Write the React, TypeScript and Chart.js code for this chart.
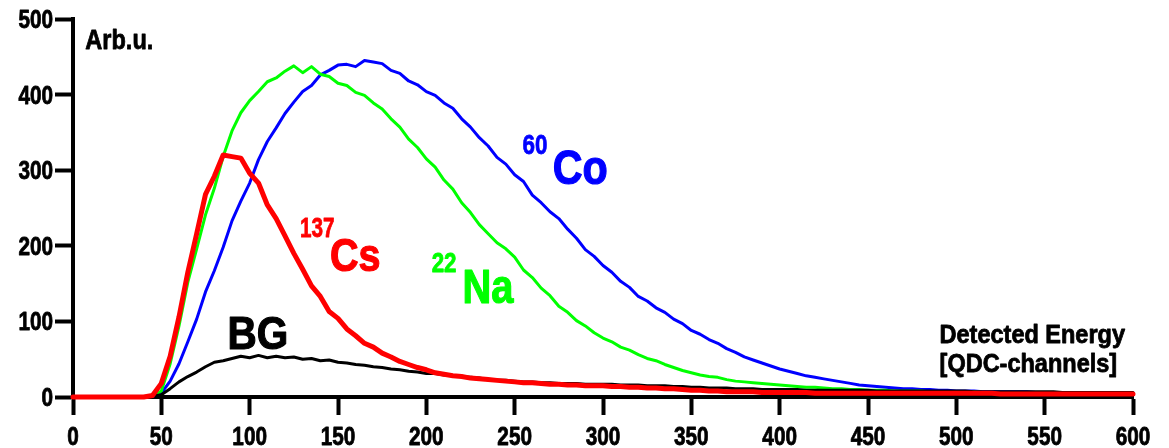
import React, { useEffect, useRef } from "react";
import { Chart, registerables } from "chart.js";

Chart.register(...registerables);

// QDC channel of every sample (step of 5 channels)
const channels = [
  0, 5, 10, 15, 20, 25, 30, 35, 40, 45, 50, 55, 60, 65, 70, 75, 80, 85, 90, 95,
  100, 105, 110, 115, 120, 125, 130, 135, 140, 145, 150, 155, 160, 165, 170, 175, 180, 185, 190, 195,
  200, 205, 210, 215, 220, 225, 230, 235, 240, 245, 250, 255, 260, 265, 270, 275, 280, 285, 290, 295,
  300, 305, 310, 315, 320, 325, 330, 335, 340, 345, 350, 355, 360, 365, 370, 375, 380, 385, 390, 395,
  400, 405, 410, 415, 420, 425, 430, 435, 440, 445, 450, 455, 460, 465, 470, 475, 480, 485, 490, 495,
  500, 505, 510, 515, 520, 525, 530, 535, 540, 545, 550, 555, 560, 565, 570, 575, 580, 585, 590, 595,
  600,
];

// 137Cs spectrum
const cs137 = [
  0, 0, 0, 0, 0, 0, 0, 0, 0, 2, 18, 54, 106, 165, 216, 268, 292, 320, 318, 316,
  296, 283, 254, 236, 213, 190, 169, 147, 133, 113, 104, 90, 81, 71, 66, 58, 53, 47, 43, 39,
  36, 32, 30, 28, 27, 25, 24, 23, 22, 21, 20, 19, 19, 18, 17, 17, 16, 16, 15, 15,
  15, 14, 14, 13, 13, 12, 12, 11, 11, 10, 9, 9, 8, 8, 7, 7, 7, 7, 6, 6,
  6, 6, 6, 6, 5, 5, 5, 5, 5, 5, 5, 5, 5, 5, 5, 5, 5, 5, 5, 5,
  5, 5, 5, 5, 5, 4, 4, 4, 4, 4, 4, 4, 4, 4, 4, 4, 4, 4, 4, 4,
  4,
];

// 22Na spectrum
const na22 = [
  0, 0, 0, 0, 0, 0, 0, 0, 0, 1, 8, 44, 94, 152, 196, 241, 276, 318, 352, 376,
  392, 404, 417, 422, 431, 438, 429, 437, 427, 424, 415, 412, 403, 399, 389, 381, 368, 357, 341, 330,
  315, 304, 287, 275, 257, 244, 228, 216, 204, 196, 185, 168, 158, 144, 134, 120, 112, 101, 94, 85,
  78, 73, 66, 62, 56, 51, 48, 43, 39, 35, 32, 29, 27, 26, 23, 21, 20, 19, 18, 17,
  16, 15, 14, 13, 13, 12, 11, 11, 10, 10, 9, 9, 9, 8, 8, 8, 8, 7, 7, 7,
  7, 7, 7, 6, 6, 6, 6, 6, 6, 6, 6, 6, 5, 5, 5, 5, 5, 5, 5, 5,
  5,
];

// 60Co spectrum
const co60 = [
  0, 0, 0, 0, 0, 0, 0, 0, 0, 1, 5, 21, 44, 73, 103, 139, 167, 198, 233, 259,
  283, 314, 338, 356, 375, 390, 404, 412, 426, 432, 439, 440, 437, 445, 443, 441, 432, 428, 418, 413,
  404, 399, 389, 382, 368, 357, 343, 332, 317, 308, 294, 285, 267, 257, 245, 236, 222, 210, 195, 186,
  174, 165, 153, 145, 133, 127, 118, 112, 103, 97, 88, 83, 76, 71, 64, 59, 53, 49, 45, 41,
  37, 34, 31, 28, 26, 24, 22, 20, 18, 16, 15, 14, 13, 12, 11, 11, 10, 10, 9, 9,
  8, 8, 8, 7, 7, 7, 7, 7, 7, 6, 6, 6, 6, 6, 6, 6, 5, 5, 5, 5,
  5,
];

// Background spectrum
const background = [
  0, 0, 0, 0, 0, 0, 0, 0, 0, 1, 3, 11, 20, 27, 33, 40, 46, 48, 51, 54,
  52, 55, 52, 54, 52, 53, 50, 51, 48, 49, 46, 45, 43, 42, 40, 39, 37, 36, 34, 33,
  31, 31, 29, 28, 27, 26, 25, 23, 22, 22, 21, 20, 20, 19, 19, 18, 18, 18, 17, 17,
  17, 17, 16, 16, 16, 15, 15, 15, 14, 14, 13, 13, 12, 12, 12, 11, 11, 11, 10, 10,
  10, 10, 10, 9, 9, 9, 9, 9, 9, 9, 9, 8, 8, 8, 8, 8, 8, 8, 8, 8,
  8, 8, 7, 7, 7, 7, 7, 7, 7, 7, 7, 7, 6, 6, 6, 6, 6, 6, 6, 6,
  6,
];

const FONT = '"Liberation Sans", Arial, sans-serif';

// In-plot text, anchored in data coordinates (channel, counts) at the left baseline;
// sx narrows the glyphs horizontally for a condensed face.
const plotTexts = [
  { text: "Arb.u.", x: 7, y: 460, size: 28, sx: 0.84, color: "#000000" },
  { text: "BG", x: 87.5, y: 64, size: 46, sx: 0.88, color: "#000000" },
  { text: "137", x: 128.5, y: 211, size: 28, sx: 0.74, color: "#ff0000" },
  { text: "Cs", x: 145.5, y: 167, size: 46, sx: 0.86, color: "#ff0000" },
  { text: "22", x: 203, y: 165, size: 28, sx: 0.8, color: "#00ff00" },
  { text: "Na", x: 220.5, y: 124, size: 48, sx: 0.83, color: "#00ff00" },
  { text: "60", x: 254.5, y: 322, size: 28, sx: 0.8, color: "#0000ff" },
  { text: "Co", x: 271.5, y: 282, size: 48, sx: 0.86, color: "#0000ff" },
  { text: "Detected Energy", x: 490.5, y: 71, size: 25, sx: 0.94, color: "#000000" },
  { text: "[QDC-channels]", x: 490.5, y: 33, size: 25, sx: 0.94, color: "#000000" },
];

const TICK_SIZE = 25;
const TICK_SX = 0.83;

// Bold text squeezed horizontally, with a thin outline in the same colour for a heavier stroke
function condensedText(
  ctx: CanvasRenderingContext2D,
  text: string,
  x: number,
  y: number,
  sx: number,
  align: CanvasTextAlign,
  weight: number
) {
  ctx.save();
  ctx.translate(x, y);
  ctx.scale(sx, 1);
  ctx.textAlign = align;
  ctx.lineJoin = "round";
  ctx.lineWidth = weight;
  ctx.strokeStyle = ctx.fillStyle;
  ctx.fillText(text, 0, 0);
  ctx.strokeText(text, 0, 0);
  ctx.restore();
}

const textPlugin = {
  id: "plotTexts",
  afterDraw(chart: any) {
    const ctx = chart.ctx as CanvasRenderingContext2D;
    const xs = chart.scales.x;
    const ys = chart.scales.y;
    const area = chart.chartArea;
    ctx.save();
    ctx.textBaseline = "alphabetic";

    // axis tick labels in a condensed bold face
    ctx.font = `bold ${TICK_SIZE}px ${FONT}`;
    ctx.fillStyle = "#000000";
    for (const t of xs.ticks) {
      condensedText(ctx, String(t.value), xs.getPixelForValue(t.value), area.bottom + 48, TICK_SX, "center", 0.8);
    }
    for (const t of ys.ticks) {
      condensedText(ctx, String(t.value), area.left - 20, ys.getPixelForValue(t.value) + 9, TICK_SX, "right", 0.8);
    }

    for (const t of plotTexts) {
      ctx.font = `bold ${t.size}px ${FONT}`;
      ctx.fillStyle = t.color;
      condensedText(ctx, t.text, xs.getPixelForValue(t.x), ys.getPixelForValue(t.y), t.sx, "left", t.size > 40 ? 1.2 : 0.8);
    }
    ctx.restore();
  },
};

const toPoints = (vals: number[]) => channels.map((c, i) => ({ x: c, y: vals[i] }));

export default function App() {
  const ref = useRef<HTMLCanvasElement | null>(null);

  useEffect(() => {
    if (!ref.current) return;
    const hidden = "rgba(0,0,0,0)";
    const chart = new Chart(ref.current, {
      type: "line",
      data: {
        datasets: [
          { label: "137Cs", data: toPoints(cs137), borderColor: "#ff0000", borderWidth: 5, order: 0 },
          { label: "BG", data: toPoints(background), borderColor: "#000000", borderWidth: 3, order: 1 },
          { label: "22Na", data: toPoints(na22), borderColor: "#00ff00", borderWidth: 3, order: 2 },
          { label: "60Co", data: toPoints(co60), borderColor: "#0000ff", borderWidth: 3, order: 3 },
        ],
      },
      options: {
        animation: false,
        responsive: false,
        parsing: false as any,
        elements: {
          point: { radius: 0 },
          line: { tension: 0, fill: false, borderJoinStyle: "round", borderCapStyle: "round" },
        },
        datasets: { line: { clip: false as any } },
        layout: { padding: { top: 19, right: 36, left: 0, bottom: 0 } },
        plugins: { legend: { display: false }, tooltip: { enabled: false } },
        scales: {
          x: {
            type: "linear",
            position: "bottom",
            min: 0,
            max: 600,
            afterFit: (s: any) => { s.height = 51; },
            ticks: { stepSize: 50, color: hidden, font: { size: TICK_SIZE, weight: "bold" }, maxRotation: 0, autoSkip: false },
            grid: { drawOnChartArea: false, drawTicks: true, tickLength: 18, tickWidth: 4, tickColor: "#000" },
            border: { display: true, color: "#000", width: 4 },
          },
          xMinor: {
            type: "linear",
            position: "bottom",
            min: 0,
            max: 600,
            afterFit: (s: any) => { s.height = 0; },
            ticks: { stepSize: 10, callback: () => "", autoSkip: false },
            grid: { drawOnChartArea: false, drawTicks: true, tickLength: 10, tickWidth: 3, tickColor: "#000" },
            border: { display: false },
          },
          y: {
            type: "linear",
            position: "left",
            min: 0,
            max: 500,
            afterFit: (s: any) => { s.width = 73; },
            ticks: { stepSize: 100, color: hidden, font: { size: TICK_SIZE, weight: "bold" } },
            grid: { drawOnChartArea: false, drawTicks: true, tickLength: 18, tickWidth: 4, tickColor: "#000" },
            border: { display: true, color: "#000", width: 4 },
          },
          yMinor: {
            type: "linear",
            position: "left",
            min: 0,
            max: 500,
            afterFit: (s: any) => { s.width = 0; },
            ticks: { stepSize: 50, callback: () => "" },
            grid: { drawOnChartArea: false, drawTicks: true, tickLength: 10, tickWidth: 3, tickColor: "#000" },
            border: { display: false },
          },
        },
      },
      plugins: [textPlugin],
    });
    return () => chart.destroy();
  }, []);

  return (
    <div style={{ position: "fixed", left: 0, top: 0, width: 1169, height: 448, background: "#fff" }}>
      <canvas ref={ref} width={1169} height={448} />
    </div>
  );
}
